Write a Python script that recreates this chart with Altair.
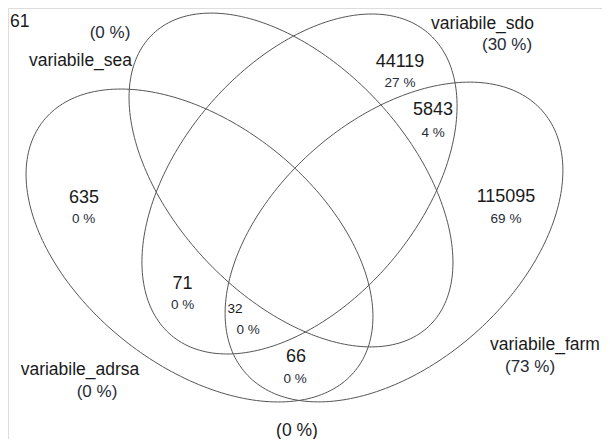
import altair as alt
import numpy as np
import pandas as pd

# ---- data -------------------------------------------------------------
set_names = ["variabile_adrsa", "variabile_sea", "variabile_sdo", "variabile_farm"]
set_pcts = ["(0 %)", "(0 %)", "(30 %)", "(73 %)"]

# ellipse geometry (image-pixel coordinate system, y downward)
ell_cx = [199.5, 291.0, 299.5, 394.0]
ell_cy = [245.5, 180.0, 184.0, 242.0]
ell_a = [199.8, 201.0, 198.3, 198.0]
ell_b = [121.0, 117.0, 120.0, 122.0]
ell_rot = [38.6, 46.75, -49.7, -41.5]

region_counts = ["635", "44119", "5843", "115095", "71", "32", "66"]
region_pcts = ["0 %", "27 %", "4 %", "69 %", "0 %", "0 %", "0 %"]
count_x = [84, 400, 433, 506, 182.5, 235, 296]
count_y = [203, 67, 115, 202, 289, 313, 362]
count_size = [18, 18, 18, 18, 18, 13.5, 18]
pct_x = [83.5, 400, 433, 506, 182.5, 248, 295]
pct_y = [223, 87, 137, 223, 309, 334, 383]

label_x = [80, 80.5, 482.5, 545]
label_y = [375, 66, 29, 350]
label_pct_x = [97, 110, 507, 530]
label_pct_y = [397, 38, 50, 372]

extra_text = ["61", "(0 %)"]
extra_x = [10, 297]
extra_y = [27, 436]
extra_align = ["left", "center"]

# ---- build tables -----------------------------------------------------
rows = []
t = np.linspace(0, 2 * np.pi, 241)
for name, cx, cy, a, b, r in zip(set_names, ell_cx, ell_cy, ell_a, ell_b, ell_rot):
    th = np.deg2rad(r)
    xs = cx + a * np.cos(t) * np.cos(th) - b * np.sin(t) * np.sin(th)
    ys = cy + a * np.cos(t) * np.sin(th) + b * np.sin(t) * np.cos(th)
    for i, (x, y) in enumerate(zip(xs, ys)):
        rows.append({"set": name, "i": i, "x": x, "y": y})
ell_df = pd.DataFrame(rows)

txt = []
for s, x, y, fs in zip(region_counts, count_x, count_y, count_size):
    txt.append({"text": s, "x": x, "y": y, "size": fs, "align": "center", "color": "#1a1a1a"})
for s, x, y in zip(region_pcts, pct_x, pct_y):
    txt.append({"text": s, "x": x, "y": y, "size": 13.5, "align": "center", "color": "#262b36"})
for s, x, y in zip(set_names, label_x, label_y):
    txt.append({"text": s, "x": x, "y": y, "size": 17.5, "align": "center", "color": "#1a1a1a"})
for s, x, y in zip(set_pcts, label_pct_x, label_pct_y):
    txt.append({"text": s, "x": x, "y": y, "size": 17, "align": "center", "color": "#262b36"})
for s, x, y, al in zip(extra_text, extra_x, extra_y, extra_align):
    txt.append({"text": s, "x": x, "y": y, "size": 17.5, "align": al, "color": "#1a1a1a"})
txt_df = pd.DataFrame(txt)

W, H = 594, 431
xs = alt.Scale(domain=[8, 8 + W], nice=False, zero=False)
ys = alt.Scale(domain=[8, 8 + H], nice=False, zero=False, reverse=True)

lines = alt.Chart(ell_df).mark_line(color="#555555", strokeWidth=1, clip=False).encode(
    x=alt.X("x:Q", scale=xs, axis=None),
    y=alt.Y("y:Q", scale=ys, axis=None),
    detail="set:N",
    order="i:Q",
)

def text_layer(align):
    d = txt_df[txt_df["align"] == align]
    return alt.Chart(d).mark_text(
        align=align, baseline="alphabetic", font="Liberation Sans"
    ).encode(
        x=alt.X("x:Q", scale=xs, axis=None),
        y=alt.Y("y:Q", scale=ys, axis=None),
        text="text:N",
        size=alt.Size("size:Q", scale=None, legend=None),
        color=alt.Color("color:N", scale=None, legend=None),
    )

chart = alt.layer(lines, text_layer("center"), text_layer("left")).properties(
    width=W, height=H, padding=0, autosize=alt.AutoSizeParams(type="none")
).configure_view(stroke=None).configure(background="white")

chart.save("out.html", embed_options={"renderer": "svg", "actions": False})
